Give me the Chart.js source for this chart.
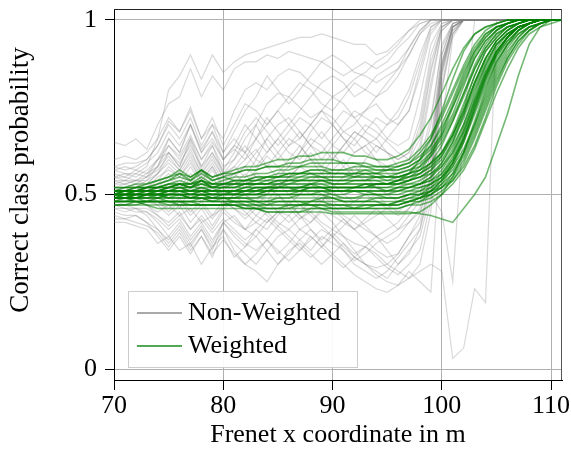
<!DOCTYPE html>
<html><head><meta charset="utf-8">
<script src="https://cdn.jsdelivr.net/npm/chart.js@4.4.1/dist/chart.umd.min.js"></script>
<style>html,body{margin:0;padding:0;background:#fff}#wrap{width:571px;height:453px}</style>
</head><body><div id="wrap"><canvas id="c" width="571" height="453"></canvas></div>
<script>
// x positions (Frenet x coordinate in m), 70..111
const xs = [70,71,72,73,74,75,76,77,78,79,80,81,82,83,84,85,86,87,88,89,90,91,92,93,94,95,96,97,98,99,100,101,102,103,104,105,106,107,108,109,110,111];
const xTicks = [70,80,90,100,110];
const yTicks = [0,0.5,1];
const yTickLabels = ['0','0.5','1'];
const legendLabels = ['Non-Weighted','Weighted'];
const xTitle = 'Frenet x coordinate in m';
const yTitle = 'Correct class probability';

// Non-Weighted runs (grey)
const nw01 = [0.55,0.56,0.56,0.58,0.66,0.80,0.84,0.90,0.83,0.90,0.85,0.88,0.90,0.91,0.92,0.93,0.94,0.95,0.95,0.96,0.95,0.94,0.93,0.93,0.90,0.91,0.94,0.97, 0.99,1,1,1,1,1,1,1,1,1,1,1,1,1];
const nw02 = [0.65,0.64,0.66,0.63,0.70,0.76,0.78,0.86,0.78,0.84,0.80,0.86,0.88,0.88,0.90,0.89,0.91,0.90,0.89,0.88,0.90,0.88,0.85,0.84,0.82,0.84,0.86,0.92, 0.97,1,1,1,1,1,1,1,1,1,1,1,1,1];
const nw03 = [0.58,0.57,0.58,0.60,0.64,0.71,0.68,0.74,0.66,0.70,0.66,0.74,0.80,0.82,0.80,0.84,0.86,0.85,0.82,0.80,0.78,0.80,0.83,0.85,0.88,0.90,0.93,0.97, 1,1,1,1,1,1,1,1,1,1,1,1,1,1];
const nw04 = [0.55,0.54,0.56,0.55,0.60,0.66,0.62,0.70,0.63,0.68,0.62,0.66,0.62,0.70,0.76,0.79,0.78,0.75,0.72,0.74,0.78,0.76,0.72,0.74,0.78,0.80,0.84,0.90, 0.96,1,1,1,1,1,1,1,1,1,1,1,1,1];
const nw05 = [0.53,0.53,0.54,0.55,0.58,0.64,0.60,0.66,0.60,0.64,0.58,0.60,0.64,0.60,0.66,0.70,0.72,0.68,0.64,0.62,0.66,0.70,0.74,0.72,0.70,0.66,0.64,0.66, 0.78,0.93,0.99,1,1,1,1,1,1,1,1,1,1,1];
const nw06 = [0.57,0.56,0.55,0.57,0.60,0.62,0.58,0.65,0.57,0.62,0.56,0.58,0.55,0.60,0.58,0.62,0.66,0.64,0.60,0.58,0.62,0.58,0.55,0.60,0.64,0.62,0.58,0.60, 0.66,0.85,0.98,1,1,1,1,1,1,1,1,1,1,1];
const nw07 = [0.52,0.53,0.52,0.54,0.56,0.60,0.57,0.62,0.56,0.60,0.55,0.57,0.60,0.63,0.58,0.55,0.58,0.62,0.68,0.72,0.70,0.66,0.62,0.64,0.66,0.62,0.60,0.62, 0.72,0.90,0.99,1,1,1,1,1,1,1,1,1,1,1];
const nw08 = [0.51,0.52,0.51,0.52,0.55,0.57,0.55,0.59,0.54,0.58,0.52,0.54,0.52,0.56,0.54,0.52,0.55,0.58,0.56,0.54,0.57,0.60,0.56,0.54,0.56,0.58,0.55,0.56, 0.60,0.72,0.92,0.99,1,1,1,1,1,1,1,1,1,1];
const nw09 = [0.48,0.47,0.48,0.47,0.44,0.42,0.45,0.40,0.44,0.40,0.45,0.42,0.40,0.44,0.42,0.45,0.48,0.44,0.42,0.46,0.44,0.42,0.40,0.42,0.44,0.46,0.44,0.46, 0.50,0.62,0.88,0.98,1,1,1,1,1,1,1,1,1,1];
const nw10 = [0.45,0.44,0.44,0.42,0.38,0.34,0.38,0.33,0.38,0.32,0.40,0.36,0.33,0.30,0.34,0.38,0.40,0.37,0.34,0.38,0.36,0.34,0.31,0.33,0.36,0.38,0.40,0.42, 0.45,0.55,0.85,0.97,1,1,1,1,1,1,1,1,1,1];
const nw11 = [0.42,0.42,0.41,0.40,0.36,0.38,0.34,0.36,0.30,0.35,0.40,0.34,0.30,0.28,0.25,0.30,0.34,0.36,0.33,0.30,0.33,0.36,0.32,0.30,0.28,0.26,0.30,0.34, 0.38,0.50,0.82,0.96,1,1,1,1,1,1,1,1,1,1];
const nw12 = [0.50,0.50,0.51,0.49,0.47,0.50,0.46,0.52,0.48,0.50,0.47,0.50,0.54,0.50,0.48,0.52,0.55,0.52,0.50,0.48,0.52,0.55,0.58,0.55,0.52,0.50,0.52,0.54, 0.58,0.70,0.93,0.99,1,1,1,1,1,1,1,1,1,1];
const nw13 = [0.47,0.46,0.46,0.45,0.43,0.40,0.43,0.38,0.42,0.37,0.42,0.44,0.40,0.38,0.42,0.45,0.44,0.40,0.42,0.45,0.42,0.38,0.34,0.30,0.27,0.25,0.24,0.26, 0.30,0.45,0.80,0.96,1,1,1,1,1,1,1,1,1,1];
const nw14 = [0.49,0.48,0.48,0.47,0.45,0.47,0.44,0.46,0.42,0.44,0.46,0.43,0.40,0.42,0.45,0.42,0.40,0.43,0.45,0.42,0.40,0.38,0.36,0.35,0.33,0.30,0.28,0.26, 0.28,0.30,0.28,0.03,0.06,0.23,0.19,1,1,1,1,1,1,1];
const nw15 = [0.60,0.61,0.60,0.62,0.66,0.72,0.68,0.75,0.66,0.72,0.64,0.70,0.76,0.74,0.70,0.74,0.78,0.82,0.80,0.76,0.74,0.78,0.82,0.80,0.78,0.82,0.86,0.90, 0.96,0.99,1,1,1,1,1,1,1,1,1,1,1,1];
const nw16 = [0.56,0.55,0.57,0.56,0.60,0.64,0.61,0.67,0.60,0.65,0.60,0.63,0.60,0.66,0.72,0.68,0.64,0.66,0.70,0.74,0.72,0.68,0.70,0.74,0.76,0.72,0.70,0.74, 0.86,0.97,1,1,1,1,1,1,1,1,1,1,1,1];
const nw17 = [0.54,0.54,0.53,0.55,0.57,0.61,0.57,0.63,0.56,0.61,0.55,0.58,0.62,0.58,0.62,0.66,0.62,0.60,0.64,0.68,0.64,0.62,0.66,0.70,0.68,0.65,0.62,0.60, 0.70,0.88,0.98,1,1,1,1,1,1,1,1,1,1,1];
const nw18 = [0.46,0.45,0.46,0.44,0.40,0.36,0.40,0.35,0.40,0.34,0.42,0.38,0.35,0.40,0.37,0.33,0.36,0.40,0.38,0.35,0.38,0.34,0.30,0.28,0.26,0.28,0.32,0.36, 0.40,0.52,0.84,0.97,1,1,1,1,1,1,1,1,1,1];
const nw19 = [0.50,0.49,0.50,0.49,0.48,0.46,0.49,0.45,0.48,0.44,0.48,0.46,0.43,0.46,0.48,0.45,0.42,0.45,0.48,0.50,0.47,0.44,0.42,0.40,0.38,0.36,0.38,0.42, 0.46,0.60,0.87,0.98,1,1,1,1,1,1,1,1,1,1];
const nw20 = [0.52,0.52,0.53,0.51,0.52,0.55,0.52,0.56,0.51,0.55,0.50,0.53,0.56,0.52,0.50,0.54,0.52,0.50,0.54,0.56,0.53,0.50,0.48,0.50,0.53,0.50,0.48,0.50, 0.54,0.66,0.90,0.99,1,1,1,1,1,1,1,1,1,1];
const nw21 = [0.48,0.49,0.48,0.48,0.47,0.44,0.47,0.42,0.46,0.41,0.46,0.48,0.45,0.42,0.40,0.44,0.47,0.44,0.40,0.37,0.40,0.43,0.40,0.37,0.34,0.32,0.33,0.38, 0.44,0.56,0.86,0.98,1,1,1,1,1,1,1,1,1,1];
const nw22 = [0.55,0.55,0.54,0.56,0.58,0.62,0.59,0.64,0.58,0.62,0.57,0.62,0.68,0.72,0.68,0.64,0.68,0.72,0.70,0.66,0.70,0.74,0.72,0.68,0.66,0.70,0.74,0.80, 0.90,0.98,1,1,1,1,1,1,1,1,1,1,1,1];
const nw23 = [0.44,0.43,0.44,0.42,0.40,0.37,0.41,0.36,0.40,0.35,0.38,0.32,0.35,0.38,0.34,0.30,0.33,0.37,0.40,0.36,0.33,0.30,0.27,0.25,0.23,0.22,0.24,0.28, 0.25,0.22,0.70,0.95,1,1,1,1,1,1,1,1,1,1];
const nw24 = [0.51,0.51,0.50,0.51,0.49,0.52,0.49,0.54,0.50,0.52,0.49,0.52,0.50,0.47,0.50,0.53,0.50,0.47,0.45,0.48,0.51,0.48,0.46,0.48,0.50,0.47,0.45,0.48, 0.52,0.64,0.90,0.99,1,1,1,1,1,1,1,1,1,1];
const nw25 = [0.49,0.50,0.49,0.50,0.52,0.50,0.53,0.49,0.52,0.48,0.51,0.54,0.50,0.48,0.52,0.50,0.47,0.50,0.53,0.50,0.48,0.46,0.48,0.50,0.48,0.46,0.48,0.50, 0.50,0.50,0.45,0.25,0.70,1,1,1,1,1,1,1,1,1];
const nw26 = [0.53,0.54,0.54,0.53,0.56,0.59,0.56,0.61,0.55,0.59,0.54,0.56,0.53,0.57,0.61,0.58,0.55,0.58,0.62,0.58,0.55,0.58,0.62,0.64,0.60,0.56,0.54,0.56, 0.62,0.80,0.97,1,1,1,1,1,1,1,1,1,1,1];
const nw27 = [0.57,0.58,0.57,0.59,0.62,0.68,0.64,0.70,0.62,0.66,0.60,0.64,0.70,0.66,0.62,0.66,0.70,0.74,0.78,0.82,0.84,0.82,0.78,0.80,0.84,0.86,0.88,0.92, 0.97,1,1,1,1,1,1,1,1,1,1,1,1,1];
const nw28 = [0.50,0.51,0.50,0.52,0.54,0.58,0.55,0.60,0.54,0.58,0.53,0.56,0.58,0.62,0.66,0.62,0.58,0.62,0.66,0.64,0.60,0.64,0.68,0.66,0.62,0.66,0.70,0.74, 0.84,0.96,1,1,1,1,1,1,1,1,1,1,1,1];
const nw29 = [0.47,0.47,0.46,0.46,0.44,0.41,0.44,0.40,0.43,0.39,0.43,0.40,0.37,0.40,0.43,0.40,0.37,0.34,0.37,0.40,0.38,0.35,0.32,0.30,0.29,0.30,0.33,0.38, 0.42,0.54,0.85,0.98,1,1,1,1,1,1,1,1,1,1];
const nw30 = [0.52,0.51,0.52,0.53,0.56,0.62,0.58,0.66,0.58,0.64,0.56,0.60,0.66,0.70,0.64,0.60,0.64,0.68,0.64,0.60,0.64,0.68,0.66,0.62,0.60,0.58,0.56,0.58, 0.64,0.82,0.97,1,1,1,1,1,1,1,1,1,1,1];
const nw31 = [0.46,0.46,0.45,0.45,0.42,0.38,0.42,0.37,0.41,0.36,0.42,0.39,0.36,0.34,0.37,0.41,0.38,0.35,0.32,0.35,0.39,0.36,0.33,0.35,0.38,0.34,0.30,0.33, 0.40,0.55,0.86,0.98,1,1,1,1,1,1,1,1,1,1];
const nw32 = [0.54,0.53,0.54,0.54,0.58,0.66,0.62,0.70,0.62,0.68,0.60,0.64,0.62,0.66,0.70,0.74,0.70,0.66,0.70,0.74,0.70,0.66,0.64,0.68,0.72,0.70,0.72,0.78, 0.88,0.98,1,1,1,1,1,1,1,1,1,1,1,1];
const nw33 = [0.50,0.50,0.49,0.50,0.50,0.53,0.50,0.55,0.50,0.53,0.48,0.46,0.44,0.47,0.44,0.41,0.44,0.47,0.44,0.41,0.38,0.41,0.44,0.41,0.38,0.40,0.42,0.46, 0.50,0.62,0.88,0.98,1,1,1,1,1,1,1,1,1,1];
const nw34 = [0.51,0.52,0.52,0.51,0.53,0.56,0.53,0.58,0.53,0.57,0.52,0.55,0.58,0.55,0.52,0.56,0.60,0.64,0.60,0.56,0.60,0.64,0.68,0.66,0.64,0.62,0.60,0.62, 0.68,0.86,0.98,1,1,1,1,1,1,1,1,1,1,1];
const nw35 = [0.43,0.43,0.42,0.41,0.39,0.35,0.39,0.34,0.38,0.33,0.37,0.33,0.30,0.33,0.37,0.34,0.31,0.34,0.38,0.35,0.32,0.29,0.32,0.35,0.32,0.29,0.27,0.30, 0.34,0.48,0.80,0.96,1,1,1,1,1,1,1,1,1,1];
const nw36 = [0.58,0.59,0.59,0.60,0.64,0.70,0.66,0.72,0.64,0.70,0.62,0.68,0.74,0.78,0.84,0.80,0.76,0.80,0.84,0.88,0.86,0.84,0.86,0.88,0.86,0.88,0.92,0.95, 0.99,1,1,1,1,1,1,1,1,1,1,1,1,1];
const nw37 = [0.49,0.49,0.50,0.50,0.48,0.45,0.48,0.44,0.47,0.43,0.47,0.50,0.47,0.44,0.47,0.50,0.46,0.43,0.46,0.49,0.46,0.43,0.40,0.43,0.46,0.43,0.40,0.44, 0.48,0.60,0.87,0.98,1,1,1,1,1,1,1,1,1,1];

// Weighted runs (green)
const w01 = [0.52,0.52,0.53,0.53,0.54,0.55,0.56,0.55,0.57,0.55,0.56,0.57,0.58,0.58,0.59,0.60,0.60,0.61,0.61,0.62,0.62,0.62,0.61,0.61,0.60,0.60,0.61,0.63, 0.67,0.72,0.79,0.86,0.92,0.96,0.98,0.99,1,1,1,1,1,1];
const w02 = [0.51,0.51,0.52,0.52,0.53,0.54,0.55,0.54,0.56,0.54,0.55,0.56,0.57,0.57,0.58,0.58,0.59,0.59,0.60,0.60,0.60,0.59,0.59,0.58,0.58,0.58,0.59,0.60, 0.63,0.67,0.73,0.80,0.87,0.93,0.97,0.99,1,1,1,1,1,1];
const w03 = [0.50,0.51,0.51,0.52,0.52,0.53,0.54,0.53,0.55,0.53,0.54,0.55,0.55,0.56,0.56,0.57,0.57,0.58,0.58,0.58,0.57,0.57,0.58,0.58,0.57,0.57,0.57,0.58, 0.60,0.63,0.67,0.73,0.81,0.89,0.94,0.97,0.99,1,1,1,1,1];
const w04 = [0.50,0.50,0.51,0.51,0.52,0.52,0.53,0.52,0.54,0.52,0.53,0.54,0.54,0.55,0.55,0.56,0.56,0.56,0.57,0.57,0.56,0.56,0.56,0.57,0.56,0.55,0.55,0.56, 0.57,0.59,0.62,0.67,0.74,0.82,0.89,0.94,0.97,0.99,1,1,1,1];
const w05 = [0.51,0.51,0.51,0.52,0.52,0.53,0.53,0.53,0.54,0.53,0.53,0.54,0.54,0.54,0.55,0.55,0.55,0.56,0.56,0.55,0.55,0.55,0.56,0.56,0.55,0.55,0.56,0.57, 0.58,0.61,0.65,0.71,0.78,0.86,0.92,0.96,0.98,0.99,1,1,1,1];
const w06 = [0.50,0.50,0.50,0.51,0.51,0.51,0.52,0.51,0.52,0.51,0.52,0.52,0.52,0.53,0.53,0.53,0.53,0.54,0.54,0.54,0.53,0.53,0.54,0.54,0.54,0.53,0.54,0.54, 0.55,0.57,0.60,0.65,0.72,0.80,0.87,0.93,0.96,0.98,0.99,1,1,1];
const w07 = [0.49,0.49,0.50,0.50,0.50,0.51,0.51,0.50,0.51,0.50,0.51,0.51,0.51,0.52,0.52,0.52,0.52,0.52,0.53,0.53,0.52,0.52,0.52,0.53,0.52,0.52,0.52,0.53, 0.53,0.54,0.56,0.60,0.66,0.74,0.82,0.89,0.94,0.97,0.99,1,1,1];
const w08 = [0.50,0.50,0.49,0.50,0.50,0.50,0.50,0.50,0.50,0.50,0.50,0.50,0.51,0.51,0.51,0.51,0.51,0.52,0.52,0.52,0.51,0.51,0.51,0.51,0.51,0.51,0.51,0.52, 0.53,0.55,0.59,0.65,0.73,0.82,0.89,0.94,0.97,0.99,1,1,1,1];
const w09 = [0.48,0.49,0.49,0.49,0.49,0.50,0.50,0.49,0.50,0.49,0.50,0.50,0.50,0.50,0.51,0.51,0.51,0.51,0.51,0.51,0.50,0.50,0.51,0.51,0.50,0.50,0.50,0.51, 0.51,0.52,0.54,0.57,0.62,0.69,0.77,0.85,0.91,0.95,0.98,0.99,1,1];
const w10 = [0.51,0.50,0.50,0.51,0.50,0.51,0.51,0.51,0.51,0.51,0.51,0.50,0.51,0.51,0.51,0.52,0.52,0.51,0.52,0.52,0.52,0.52,0.52,0.52,0.53,0.53,0.53,0.54, 0.56,0.59,0.64,0.71,0.79,0.87,0.93,0.97,0.99,1,1,1,1,1];
const w11 = [0.49,0.49,0.49,0.49,0.50,0.49,0.50,0.49,0.50,0.49,0.49,0.49,0.49,0.49,0.50,0.50,0.50,0.50,0.50,0.50,0.50,0.49,0.49,0.50,0.50,0.49,0.49,0.50, 0.51,0.53,0.56,0.61,0.68,0.77,0.85,0.91,0.95,0.98,0.99,1,1,1];
const w12 = [0.50,0.51,0.51,0.51,0.51,0.52,0.52,0.52,0.53,0.52,0.52,0.52,0.53,0.53,0.53,0.54,0.54,0.54,0.55,0.55,0.54,0.54,0.55,0.55,0.55,0.54,0.54,0.55, 0.56,0.58,0.62,0.68,0.76,0.84,0.91,0.95,0.98,0.99,1,1,1,1];
const w13 = [0.48,0.48,0.48,0.48,0.49,0.48,0.48,0.48,0.49,0.48,0.48,0.48,0.48,0.48,0.48,0.49,0.49,0.49,0.49,0.49,0.49,0.48,0.48,0.48,0.49,0.49,0.49,0.50, 0.50,0.51,0.53,0.56,0.61,0.68,0.76,0.84,0.90,0.95,0.98,0.99,1,1];
const w14 = [0.47,0.47,0.48,0.48,0.48,0.48,0.47,0.47,0.47,0.47,0.47,0.48,0.48,0.47,0.47,0.48,0.48,0.48,0.48,0.48,0.48,0.48,0.48,0.48,0.48,0.47,0.48,0.49, 0.50,0.52,0.55,0.60,0.67,0.76,0.84,0.91,0.95,0.98,0.99,1,1,1];
const w15 = [0.49,0.50,0.50,0.50,0.50,0.50,0.51,0.50,0.51,0.50,0.50,0.51,0.51,0.51,0.52,0.52,0.52,0.52,0.53,0.52,0.52,0.52,0.52,0.52,0.52,0.52,0.53,0.53, 0.54,0.56,0.59,0.64,0.70,0.78,0.86,0.92,0.96,0.98,0.99,1,1,1];
const w16 = [0.48,0.48,0.48,0.47,0.47,0.47,0.47,0.47,0.47,0.47,0.47,0.47,0.46,0.46,0.46,0.46,0.46,0.47,0.47,0.47,0.47,0.47,0.46,0.47,0.47,0.47,0.47,0.48, 0.49,0.50,0.52,0.55,0.60,0.67,0.75,0.83,0.89,0.94,0.97,0.99,1,1];
const w17 = [0.49,0.49,0.48,0.48,0.48,0.48,0.48,0.47,0.47,0.47,0.47,0.47,0.46,0.46,0.45,0.45,0.45,0.45,0.46,0.46,0.46,0.46,0.46,0.46,0.46,0.46,0.46,0.47, 0.48,0.50,0.53,0.58,0.65,0.74,0.83,0.90,0.95,0.98,0.99,1,1,1];
const w18 = [0.49,0.49,0.49,0.48,0.48,0.48,0.48,0.48,0.47,0.47,0.47,0.47,0.47,0.46,0.45,0.45,0.45,0.45,0.45,0.45,0.445,0.445,0.445,0.445,0.445,0.445,0.445,0.445, 0.45,0.47,0.50,0.55,0.62,0.71,0.80,0.88,0.93,0.97,0.99,1,1,1];
const w19 = [0.48,0.48,0.48,0.48,0.48,0.48,0.48,0.48,0.48,0.48,0.48,0.48,0.47,0.47,0.46,0.46,0.46,0.46,0.46,0.46,0.45,0.45,0.45,0.45,0.45,0.45,0.45,0.45, 0.445,0.44,0.43,0.42,0.46,0.50,0.55,0.64,0.73,0.84,0.93,0.98,1,1];
const w20 = [0.47,0.47,0.47,0.47,0.46,0.46,0.46,0.46,0.46,0.46,0.46,0.46,0.46,0.46,0.46,0.46,0.47,0.47,0.47,0.46,0.46,0.46,0.46,0.46,0.47,0.47,0.47,0.48, 0.49,0.51,0.54,0.59,0.66,0.75,0.84,0.91,0.95,0.98,0.99,1,1,1];
const w21 = [0.51,0.51,0.52,0.52,0.53,0.54,0.56,0.54,0.57,0.54,0.55,0.54,0.54,0.55,0.55,0.55,0.56,0.56,0.56,0.56,0.56,0.56,0.55,0.55,0.55,0.55,0.55,0.56, 0.58,0.62,0.68,0.76,0.84,0.91,0.96,0.98,0.99,1,1,1,1,1];
const w22 = [0.50,0.50,0.50,0.50,0.51,0.51,0.52,0.51,0.52,0.51,0.51,0.51,0.52,0.52,0.52,0.52,0.53,0.53,0.53,0.53,0.53,0.53,0.53,0.53,0.53,0.53,0.54,0.55, 0.57,0.61,0.67,0.75,0.83,0.90,0.95,0.98,0.99,1,1,1,1,1];
const w23 = [0.49,0.49,0.49,0.50,0.50,0.49,0.49,0.49,0.49,0.49,0.49,0.49,0.50,0.50,0.50,0.50,0.50,0.50,0.50,0.51,0.51,0.51,0.51,0.50,0.50,0.50,0.51,0.51, 0.52,0.53,0.55,0.58,0.63,0.70,0.78,0.86,0.92,0.96,0.98,0.99,1,1];
const w24 = [0.51,0.51,0.51,0.51,0.51,0.52,0.52,0.52,0.52,0.52,0.52,0.52,0.53,0.53,0.53,0.53,0.54,0.54,0.54,0.54,0.54,0.54,0.54,0.54,0.55,0.55,0.55,0.56, 0.57,0.59,0.62,0.67,0.74,0.82,0.89,0.94,0.97,0.99,1,1,1,1];
const w25 = [0.50,0.49,0.49,0.50,0.49,0.49,0.49,0.49,0.49,0.48,0.49,0.49,0.49,0.49,0.49,0.49,0.49,0.50,0.50,0.50,0.49,0.49,0.49,0.49,0.49,0.49,0.49,0.50, 0.50,0.51,0.52,0.54,0.58,0.64,0.72,0.81,0.88,0.93,0.97,0.99,1,1];
const w26 = [0.51,0.52,0.52,0.53,0.54,0.55,0.57,0.55,0.57,0.55,0.56,0.56,0.57,0.57,0.58,0.58,0.58,0.58,0.59,0.59,0.59,0.59,0.59,0.59,0.58,0.58,0.58,0.59, 0.61,0.64,0.69,0.75,0.82,0.89,0.94,0.97,0.99,1,1,1,1,1];
const w27 = [0.48,0.48,0.48,0.48,0.48,0.47,0.47,0.47,0.47,0.47,0.47,0.47,0.47,0.47,0.47,0.47,0.47,0.47,0.48,0.48,0.47,0.47,0.47,0.47,0.47,0.47,0.47,0.48, 0.48,0.49,0.51,0.54,0.59,0.66,0.74,0.82,0.89,0.94,0.97,0.99,1,1];
const w28 = [0.50,0.50,0.51,0.51,0.51,0.51,0.51,0.51,0.51,0.51,0.51,0.51,0.51,0.51,0.52,0.52,0.52,0.52,0.52,0.52,0.51,0.51,0.52,0.52,0.52,0.51,0.52,0.52, 0.53,0.54,0.57,0.62,0.69,0.77,0.85,0.91,0.95,0.98,0.99,1,1,1];
const w29 = [0.50,0.50,0.50,0.50,0.51,0.51,0.51,0.51,0.51,0.51,0.51,0.51,0.51,0.52,0.52,0.52,0.52,0.52,0.52,0.52,0.52,0.52,0.52,0.52,0.53,0.53,0.54,0.56, 0.60,0.66,0.74,0.83,0.91,0.96,0.98,0.99,1,1,1,1,1,1];
const w30 = [0.49,0.49,0.50,0.50,0.50,0.50,0.50,0.50,0.50,0.50,0.50,0.50,0.50,0.50,0.51,0.51,0.51,0.51,0.51,0.51,0.51,0.51,0.51,0.51,0.51,0.51,0.51,0.52, 0.52,0.53,0.55,0.59,0.65,0.73,0.81,0.88,0.93,0.97,0.99,1,1,1];
const w31 = [0.50,0.51,0.51,0.51,0.52,0.52,0.53,0.52,0.53,0.52,0.52,0.53,0.53,0.53,0.54,0.54,0.54,0.55,0.55,0.55,0.55,0.55,0.55,0.56,0.56,0.56,0.56,0.57, 0.59,0.62,0.66,0.72,0.79,0.86,0.92,0.96,0.98,0.99,1,1,1,1];
const w32 = [0.48,0.48,0.49,0.49,0.49,0.49,0.49,0.49,0.49,0.49,0.49,0.48,0.48,0.48,0.48,0.48,0.48,0.48,0.48,0.49,0.49,0.48,0.48,0.48,0.48,0.48,0.48,0.49, 0.49,0.50,0.52,0.56,0.62,0.70,0.79,0.87,0.93,0.96,0.98,0.99,1,1];
const w33 = [0.51,0.51,0.51,0.52,0.52,0.52,0.53,0.53,0.54,0.53,0.53,0.53,0.54,0.54,0.55,0.55,0.56,0.56,0.57,0.57,0.57,0.57,0.57,0.57,0.57,0.57,0.58,0.59, 0.62,0.66,0.72,0.79,0.86,0.92,0.96,0.98,0.99,1,1,1,1,1];
const w34 = [0.49,0.50,0.50,0.50,0.50,0.51,0.51,0.51,0.51,0.51,0.51,0.51,0.52,0.52,0.52,0.53,0.53,0.53,0.53,0.54,0.54,0.54,0.54,0.54,0.54,0.54,0.55,0.55, 0.56,0.58,0.61,0.66,0.73,0.81,0.88,0.93,0.96,0.98,0.99,1,1,1];
const w35 = [0.50,0.50,0.50,0.50,0.50,0.50,0.50,0.49,0.49,0.49,0.49,0.49,0.49,0.48,0.48,0.48,0.48,0.48,0.47,0.47,0.47,0.47,0.47,0.47,0.47,0.47,0.48,0.48, 0.49,0.51,0.54,0.59,0.66,0.75,0.83,0.90,0.95,0.98,0.99,1,1,1];
const w36 = [0.52,0.52,0.52,0.52,0.52,0.53,0.53,0.53,0.53,0.53,0.53,0.53,0.53,0.53,0.53,0.54,0.54,0.54,0.54,0.54,0.53,0.53,0.53,0.53,0.53,0.53,0.53,0.54, 0.55,0.56,0.58,0.62,0.68,0.76,0.84,0.90,0.94,0.97,0.99,1,1,1];
const w37 = [0.49,0.49,0.49,0.49,0.49,0.50,0.50,0.50,0.50,0.50,0.50,0.50,0.50,0.51,0.51,0.51,0.51,0.51,0.52,0.52,0.52,0.52,0.52,0.53,0.53,0.53,0.53,0.54, 0.55,0.57,0.61,0.67,0.75,0.84,0.91,0.95,0.98,0.99,1,1,1,1];
const w38 = [0.47,0.47,0.47,0.48,0.48,0.48,0.48,0.48,0.48,0.48,0.48,0.48,0.48,0.48,0.47,0.47,0.47,0.47,0.47,0.47,0.46,0.46,0.46,0.46,0.46,0.46,0.46,0.47, 0.47,0.48,0.50,0.53,0.57,0.63,0.71,0.79,0.86,0.92,0.96,0.98,0.99,1];
const w39 = [0.50,0.50,0.51,0.51,0.51,0.52,0.53,0.52,0.54,0.52,0.53,0.53,0.53,0.54,0.54,0.55,0.55,0.55,0.56,0.56,0.56,0.56,0.56,0.56,0.56,0.57,0.57,0.58, 0.60,0.64,0.70,0.77,0.85,0.91,0.95,0.98,0.99,1,1,1,1,1];
const w40 = [0.51,0.51,0.50,0.50,0.50,0.50,0.50,0.50,0.50,0.50,0.50,0.50,0.50,0.50,0.50,0.50,0.50,0.51,0.51,0.51,0.51,0.51,0.51,0.51,0.51,0.51,0.52,0.52, 0.53,0.55,0.58,0.63,0.70,0.79,0.87,0.93,0.96,0.98,0.99,1,1,1];

const nonWeighted = [nw01,nw02,nw03,nw04,nw05,nw06,nw07,nw08,nw09,nw10,nw11,nw12,nw13,nw14,nw15,nw16,nw17,nw18,nw19,nw20,nw21,nw22,nw23,nw24,nw25,nw26,nw27,nw28,nw29,nw30,nw31,nw32,nw33,nw34,nw35,nw36,nw37];
const weighted = [w01,w02,w03,w04,w05,w06,w07,w08,w09,w10,w11,w12,w13,w14,w15,w16,w17,w18,w19,w20,w21,w22,w23,w24,w25,w26,w27,w28,w29,w30,w31,w32,w33,w34,w35,w36,w37,w38,w39,w40];

const GREY = 'rgba(128,128,128,0.3)';
const GREEN = 'rgba(0,128,0,0.55)';
const FONT = "'Liberation Serif','Times New Roman',serif";

const toPts = arr => arr.map((v,i)=>({x:xs[i], y:v}));
const datasets = [];
nonWeighted.forEach((s,i)=>datasets.push({label:'nw'+i, data:toPts(s), borderColor:GREY, borderWidth:1.2, pointRadius:0, tension:0, fill:false, order:2}));
weighted.forEach((s,i)=>datasets.push({label:'w'+i, data:toPts(s), borderColor:GREEN, borderWidth:1.6, pointRadius:0, tension:0, fill:false, order:1}));

const framePlugin = {
  id:'frameLegend',
  afterDatasetsDraw(chart){
    const {ctx, chartArea:a} = chart;
    ctx.save();
    ctx.lineWidth = 1;
    ctx.strokeStyle = '#222';
    ctx.beginPath(); ctx.moveTo(a.left, a.top+0.5); ctx.lineTo(a.right, a.top+0.5); ctx.stroke();
    ctx.strokeStyle = '#555';
    ctx.beginPath(); ctx.moveTo(a.right-0.5, a.top); ctx.lineTo(a.right-0.5, a.bottom); ctx.stroke();
    // legend box
    const bx=128.5, by=291.5, bw=229, bh=76;
    ctx.fillStyle='rgba(255,255,255,0.92)';
    ctx.fillRect(bx,by,bw,bh);
    ctx.strokeStyle='#cccccc';
    ctx.strokeRect(bx,by,bw,bh);
    const cols=['rgba(128,128,128,0.9)','rgba(0,128,0,0.9)'];
    const ly=[313,346];
    ctx.lineWidth=1.5;
    ctx.font='26px '+FONT;
    for(let i=0;i<2;i++){
      ctx.strokeStyle=cols[i];
      ctx.beginPath(); ctx.moveTo(137,ly[i]); ctx.lineTo(182,ly[i]); ctx.stroke();
      ctx.fillStyle='#000';
      ctx.textBaseline='alphabetic';
      ctx.textAlign='left';
      ctx.fillText(legendLabels[i],188,ly[i]+7);
    }
    // y axis title
    ctx.translate(21,180);
    ctx.rotate(-Math.PI/2);
    ctx.font='27px '+FONT;
    ctx.textAlign='center';
    ctx.textBaseline='middle';
    ctx.fillText(yTitle,0,0);
    ctx.restore();
  }
};

new Chart(document.getElementById('c'), {
  type:'line',
  data:{datasets},
  options:{
    responsive:false, animation:false, devicePixelRatio:1,
    layout:{padding:{top:9,right:9,left:0,bottom:0}},
    plugins:{legend:{display:false}, tooltip:{enabled:false}},
    scales:{
      x:{type:'linear', min:70, max:111,
        afterBuildTicks:s=>{s.ticks = xTicks.map(v=>({value:v}));},
        afterFit:s=>{s.height=73; s.paddingLeft=0; s.paddingRight=0;},
        ticks:{color:'#000', font:{family:FONT,size:26}, padding:1, maxRotation:0, callback:v=>String(v)},
        grid:{color:'#b0b0b0', tickColor:'#000', tickLength:10, lineWidth:1},
        border:{color:'#000', width:1},
        title:{display:true, text:xTitle, color:'#000', font:{family:FONT,size:26}, padding:{top:0,bottom:2}}
      },
      y:{type:'linear', min:-0.0315, max:1.0315,
        afterBuildTicks:s=>{s.ticks = yTicks.map(v=>({value:v}));},
        afterFit:s=>{s.width=114; s.paddingTop=0; s.paddingBottom=0;},
        ticks:{color:'#000', font:{family:FONT,size:26}, padding:8, callback:v=>{const k=yTicks.indexOf(v); return k>=0?yTickLabels[k]:'';}},
        grid:{color:'#b0b0b0', tickColor:'#000', tickLength:9, lineWidth:1},
        border:{color:'#000', width:1},
        title:{display:false}
      }
    }
  },
  plugins:[framePlugin]
});
</script></body></html>
